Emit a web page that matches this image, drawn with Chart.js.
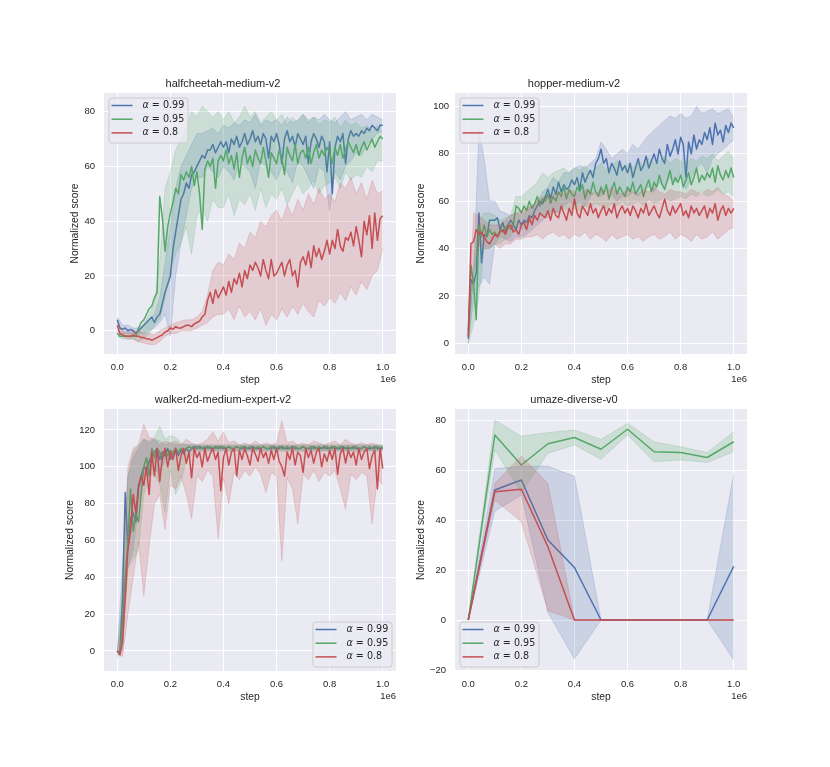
<!DOCTYPE html>
<html>
<head>
<meta charset="utf-8">
<script src="https://cdn.jsdelivr.net/npm/chart.js@4.4.0/dist/chart.umd.min.js"></script>
<style>
  html, body { margin: 0; padding: 0; background: #fff; }
  #fig { position: relative; width: 830px; height: 767px; overflow: hidden; background: #fff; }
  #fig canvas { position: absolute; }
</style>
</head>
<body>
<div id="fig">
  <canvas id="hc"></canvas>
  <canvas id="hp"></canvas>
  <canvas id="wk"></canvas>
  <canvas id="um"></canvas>
</div>
<script>
// evaluation steps: means every 1e4 steps, bands every 2e4 steps
const FINE_STEPS = Array.from({length: 101}, (_, i) => i * 10000);
const BAND_STEPS = Array.from({length: 51}, (_, i) => i * 20000);
const UM_STEPS = [0, 100000, 200000, 300000, 400000, 500000, 600000, 700000, 800000, 900000, 1000000];

const X_TICKS = [0, 200000, 400000, 600000, 800000, 1000000];
const LEGEND_LABELS = ['0.99', '0.95', '0.8'];

// halfcheetah-medium-v2
const HC_BLUE = [
  4,1,0.5,1,0,0.5,0,-1,0,1,
  2,3,4,5,3,5,6,10,14,17,
  20,30,36,42,48,50,54,52,57,58,
  60,62,64,63,66,66,68,65,67,69,
  67,69,65,70,68,71,67,69,72,68,
  70,73,69,71,68,72,70,63,71,69,
  72,68,61,70,73,69,71,67,72,70,
  68,71,61,69,72,70,67,71,69,58,
  69,50,67,71,69,72,61,70,73,71,
  72,71,73,72,74,73,75,74,73,75,75];
const HC_BLUE_HI = [
  5,2,2,1,1,2,4,6,12,25,
  38,52,60,64,68,72,72,73,74,72,
  75,74,76,75,77,76,79,75,77,76,
  77,75,78,76,77,79,76,78,77,79,
  77,76,78,80,77,78,79,77,79,78,77];
const HC_BLUE_LO = [
  2,-1,-1,-1,-1,-1,0,1,3,6,
  -2,20,32,42,52,56,56,60,58,56,
  60,58,55,62,60,58,52,62,60,58,
  55,60,58,54,62,60,56,52,60,58,
  44,58,55,60,62,65,64,68,70,72,73];
const HC_GREEN = [
  -1,-2,-2,-2,-2,-2,-2,-2,1,3,
  4,6,8,9,12,14,49,41,29,38,
  43,47,52,50,57,55,58,56,60,53,
  58,50,37,59,62,60,63,52,62,64,
  62,66,61,64,59,65,56,63,67,61,
  64,60,66,63,61,67,62,56,65,63,
  61,66,63,57,67,64,62,68,61,65,
  66,63,67,61,65,68,63,66,64,67,
  65,61,67,64,68,63,66,69,67,65,
  68,64,67,69,66,68,70,67,69,71,70];
const HC_GREEN_HI = [
  0,-1,-1,-1,0,3,6,10,25,52,
  58,66,70,74,80,78,82,80,78,80,
  77,80,76,78,82,78,80,76,78,80,
  77,79,75,78,76,79,77,78,75,77,
  76,78,74,77,75,76,74,75,73,75,72];
const HC_GREEN_LO = [
  -2,-3,-3,-3,-4,-3,-1,2,4,12,
  22,28,32,38,28,42,45,40,48,45,
  45,50,42,48,46,50,44,52,45,50,
  48,52,46,50,54,50,52,55,50,53,
  54,56,52,58,55,57,56,60,58,62,62];
const HC_RED = [
  2,-1,-1.5,-2,-2,-2,-1.5,-2,-2,-2.5,
  -2.5,-3,-3,-3.5,-3,-2.5,-2,-1.5,-0.5,0,
  1,0.5,1.5,1,1,1.5,2,2,1.5,2.5,
  3,3.5,5,6,11,14,10,15,12,14,
  16,13,18,14,19,17,21,16,22,19,
  24,22,25,23,20,26,22,19,26,20,
  21,23,25,20,24,26,20,22,16,25,
  27,24,29,23,31,27,30,26,29,33,
  28,33,30,37,31,29,34,33,36,31,
  38,33,27,40,35,42,30,43,33,41,42];
const HC_RED_HI = [
  3,0,-0.5,0,0,-1,-1,-1.5,0,1,
  2,3,3.5,4,4,5,7,13,22,25,
  24,28,26,32,30,36,34,40,38,42,
  44,40,46,42,48,44,50,46,52,48,
  50,47,54,52,56,50,54,48,55,50,51];
const HC_RED_LO = [
  -1,-2,-3,-3,-4,-4.5,-5,-5,-4,-2,
  -1,-1,0,0,0,1,2,3,5,6,
  6,8,4,9,5,7,4,8,2,6,
  4,8,5,9,6,10,7,5,11,9,
  12,10,14,11,16,13,18,15,20,22,30];

// hopper-medium-v2
const HP_BLUE = [
  2,27,25,30,55,34,46,45,52,52,
  52,53,48,51,47,50,52,50,48,52,
  50,52,51,54,53,56,58,60,59,62,
  65,61,66,63,68,64,67,65,66,69,
  67,70,65,72,68,71,73,70,76,78,
  82,76,78,72,76,74,71,77,73,75,
  72,76,70,74,78,73,75,79,74,77,
  80,76,82,78,76,84,79,82,86,80,
  87,84,70,85,80,88,82,86,84,89,
  86,91,84,93,88,90,85,92,89,93,91];
const HP_BLUE_HI = [
  4,30,90,78,60,60,56,55,54,55,
  54,56,58,60,64,66,70,68,72,72,
  74,75,74,76,78,85,82,78,80,82,
  80,84,82,85,88,90,92,94,96,95,
  97,95,96,100,97,98,99,97,98,99,95];
const HP_BLUE_LO = [
  0,18,24,28,25,42,45,44,43,45,
  45,46,48,50,52,55,56,55,58,60,
  58,60,58,62,64,62,65,63,60,62,
  62,64,62,65,66,64,68,66,70,68,
  72,65,70,74,76,72,78,80,82,84,86];
const HP_GREEN = [
  5,33,25,10,50,45,50,45,48,46,
  47,45,48,47,49,50,48,50,58,57,
  55,58,56,60,57,59,62,58,61,60,
  63,59,62,60,64,62,66,61,65,63,
  62,66,64,67,61,65,63,68,64,62,
  66,63,67,61,65,68,63,66,64,62,
  66,64,68,63,65,67,62,66,69,64,
  68,66,71,67,65,69,73,67,70,68,
  71,66,69,72,67,70,74,68,71,69,
  72,70,74,68,75,71,69,73,70,74,70];
const HP_GREEN_HI = [
  8,35,52,55,55,54,52,53,54,62,
  62,64,66,68,72,70,72,73,74,72,
  74,73,75,72,74,76,73,75,77,74,
  76,74,77,75,78,76,77,79,76,78,
  77,76,78,77,79,78,80,77,79,81,78];
const HP_GREEN_LO = [
  0,8,20,40,40,42,42,44,45,50,
  48,50,52,54,55,53,56,55,57,56,
  57,56,58,57,59,58,57,59,58,60,
  58,59,60,58,61,59,60,62,60,61,
  62,61,63,62,64,62,63,65,63,64,62];
const HP_RED = [
  3,42,43,48,46,47,45,43,42,44,
  46,45,47,48,46,49,50,47,48,46,
  50,51,48,53,50,54,52,55,54,53,
  56,52,57,54,53,58,55,52,57,54,
  61,55,53,58,56,54,59,55,57,53,
  56,58,54,57,55,59,53,56,58,55,
  57,54,58,56,53,57,55,59,54,56,
  58,55,53,57,61,56,54,58,55,57,
  59,54,56,53,58,55,57,54,56,58,
  53,57,55,59,52,56,58,54,57,55,57];
const HP_RED_HI = [
  5,55,54,52,50,50,50,52,54,55,
  56,57,58,60,62,62,63,64,63,65,
  64,63,65,64,63,65,64,66,64,63,
  65,64,63,65,64,66,64,63,65,64,
  64,63,65,64,63,65,64,66,63,62,60];
const HP_RED_LO = [
  0,30,42,40,40,42,40,42,42,44,
  44,45,45,46,44,46,47,45,46,44,
  46,45,47,44,46,45,43,46,44,45,
  46,44,45,43,45,46,44,45,47,44,
  46,45,43,46,44,45,47,44,46,48,49];

// walker2d-medium-expert-v2
const WK_BLUE = [
  0,-1,30,86,55,72,75,70,88,95,
  100,98,103,106,108,110,104,108,106,110,
  104,108,110,106,109,107,110,108,110,111,
  110,111,110,110,111,110,110,111,110,111,
  110,110,111,110,110,111,110,110,111,110,
  110,111,110,110,110,111,110,110,110,111,
  110,110,111,110,110,110,111,110,110,110,
  111,110,110,110,111,110,110,110,111,110,
  110,111,110,110,110,111,110,110,110,111,
  110,110,110,111,110,110,110,111,110,110,110];
const WK_BLUE_HI = [
  0,47,95,105,110,115,113,115,114,112,
  113,112,112,112,112,111.5,111.5,111.5,111.5,111.5,
  111.5,111.5,111.5,111.5,111.5,111.5,111.5,111.5,111.5,111.5,
  111.5,111.5,111.5,111.5,111.5,111.5,111.5,111.5,111.5,111.5,
  111.5,111.5,111.5,111.5,111.5,111.5,111.5,111.5,111.5,111.5,111.5];
const WK_BLUE_LO = [
  -1,0,45,55,80,95,100,98,97,104,
  105,107,108,109,109,109,109,109,109,109,
  109,109,109,109,109,109,109,109,109,109,
  109,109,109,109,109,109,109,109,109,109,
  109,109,109,109,109,109,109,109,109,109,109];
const WK_GREEN = [
  0,-2,15,40,60,88,65,75,70,85,
  100,105,95,110,105,110,108,104,110,106,
  109,107,110,108,110,109,110,111,110,110,
  111,110,110,111,110,111,110,110,111,110,
  111,110,111,110,110,111,110,111,110,110,
  111,110,110,111,110,111,110,110,111,110,
  110,111,110,110,111,110,110,111,110,110,
  111,110,110,111,110,110,111,110,110,111,
  110,110,111,110,111,110,110,111,110,110,
  111,110,110,111,110,111,110,110,111,110,111];
const WK_GREEN_HI = [
  0,30,95,108,112,115,114,116,122,115,
  117,116,113,112,112,112,112,112,112,112,
  112,112,112,112,112,112,112,112,112,112,
  112,112,112,112,112,112,112,112,112,112,
  112,112,112,112,112,112,112,112,112,112,112];
const WK_GREEN_LO = [
  -4,5,45,50,55,85,95,96,90,75,
  98,85,92,104,106,108.5,108.5,108.5,108.5,108.5,
  108.5,108.5,108.5,108.5,108.5,108.5,108.5,108.5,108.5,108.5,
  108.5,108.5,108.5,108.5,108.5,108.5,108.5,108.5,108.5,108.5,
  108.5,108.5,108.5,108.5,108.5,108.5,108.5,108.5,108.5,108.5,108.5];
const WK_RED = [
  0,-2,5,30,55,65,85,75,90,95,
  90,100,85,108,95,110,92,105,110,100,
  108,104,110,98,106,110,102,108,94,110,
  105,108,100,110,103,107,110,104,108,87,
  105,110,101,108,110,95,109,104,110,106,
  101,110,107,103,110,105,108,102,109,104,
  110,103,100,95,108,104,110,101,108,106,
  97,110,105,109,102,108,110,100,107,103,
  109,104,110,96,107,110,102,109,105,108,
  101,110,104,108,110,99,106,109,88,110,99];
const WK_RED_HI = [
  0,20,100,110,112,123,116,115,112,114,
  113,114,112,115,113,112,113,115,119,114,
  119,113,114,112,113,112,114,112,113,112,
  113,125,113,114,112,113,112,114,113,112,
  113,114,112,115,113,112,113,112,113,112,111];
const WK_RED_LO = [
  -2,-3,20,40,60,30,57,80,85,66,
  90,88,95,85,72,95,92,98,95,61,
  94,80,97,93,98,95,100,96,86,97,
  95,49,94,88,69,96,93,98,92,97,
  95,98,88,77,96,93,97,95,69,94,90];

// umaze-diverse-v0
const UM_BLUE = [0, 52, 56, 32, 21, 0, 0, 0, 0, 0, 21.5];
const UM_BLUE_HI = [0, 60.5, 61.5, 61.5, 57.5, 0, 0, 0, 0, 0, 58.5];
const UM_BLUE_LO = [0, 43.5, 50, 3, -15.5, 0, 0, 0, 0, 0, -16];
const UM_GREEN = [0, 74, 62, 70.5, 73, 68.3, 76.3, 67.3, 67, 65, 71.3];
const UM_GREEN_HI = [0, 80, 73.5, 75, 76, 72.3, 78.7, 71.3, 69.3, 67, 75.3];
const UM_GREEN_LO = [0, 68, 51, 66.7, 70, 64.3, 74, 63.3, 64, 63, 67.3];
const UM_RED = [0, 51.3, 52.3, 29.3, 0, 0, 0, 0, 0, 0, 0];
const UM_RED_HI = [0, 54.7, 65.6, 54.7, 0, 0, 0, 0, 0, 0, 0];
const UM_RED_LO = [0, 48, 39.3, 3.7, 0, 0, 0, 0, 0, 0, 0];

const BLUE = [76, 114, 176];
const GREEN = [85, 168, 104];
const RED = [196, 78, 82];
const COLORS = [BLUE, GREEN, RED];
const TEXT = '#262626';
const FONT = '"Liberation Sans", Arial, sans-serif';

const rgba = (c, a) => `rgba(${c[0]},${c[1]},${c[2]},${a})`;

const panels = [
  {id: 'hc', title: 'halfcheetah-medium-v2', L: 104, T: 93, B: 354, yMin: -8.5, yMax: 86.8,
   yTicks: [0, 20, 40, 60, 80], legend: 'ul', tickPad: 9, yTitleOff: 29,
   steps: FINE_STEPS, bandSteps: BAND_STEPS,
   series: [[HC_BLUE, HC_BLUE_HI, HC_BLUE_LO], [HC_GREEN, HC_GREEN_HI, HC_GREEN_LO], [HC_RED, HC_RED_HI, HC_RED_LO]]},
  {id: 'hp', title: 'hopper-medium-v2', L: 455, T: 93, B: 354, yMin: -4.5, yMax: 105.7,
   yTicks: [0, 20, 40, 60, 80, 100], legend: 'ul', tickPad: 6, yTitleOff: 34,
   steps: FINE_STEPS, bandSteps: BAND_STEPS,
   series: [[HP_BLUE, HP_BLUE_HI, HP_BLUE_LO], [HP_GREEN, HP_GREEN_HI, HP_GREEN_LO], [HP_RED, HP_RED_HI, HP_RED_LO]]},
  {id: 'wk', title: 'walker2d-medium-expert-v2', L: 104, T: 409, B: 671, yMin: -10.9, yMax: 131.4,
   yTicks: [0, 20, 40, 60, 80, 100, 120], legend: 'lr', tickPad: 9, yTitleOff: 34,
   steps: FINE_STEPS, bandSteps: BAND_STEPS,
   series: [[WK_BLUE, WK_BLUE_HI, WK_BLUE_LO], [WK_GREEN, WK_GREEN_HI, WK_GREEN_LO], [WK_RED, WK_RED_HI, WK_RED_LO]]},
  {id: 'um', title: 'umaze-diverse-v0', L: 455, T: 409, B: 671, yMin: -20.4, yMax: 84.4,
   yTicks: [-20, 0, 20, 40, 60, 80], legend: 'll', tickPad: 9, yTitleOff: 34,
   steps: UM_STEPS, bandSteps: UM_STEPS,
   series: [[UM_BLUE, UM_BLUE_HI, UM_BLUE_LO], [UM_GREEN, UM_GREEN_HI, UM_GREEN_LO], [UM_RED, UM_RED_HI, UM_RED_LO]]}
];

// grey axes face + offset label "1e6"
const axesDecor = {
  id: 'axesDecor',
  beforeDraw(chart) {
    const {ctx, chartArea: a} = chart;
    ctx.save();
    ctx.fillStyle = '#eaeaf2';
    ctx.fillRect(a.left, a.top, a.right - a.left, a.bottom - a.top);
    ctx.restore();
  },
  afterDraw(chart) {
    const {ctx, chartArea: a} = chart;
    ctx.save();
    ctx.fillStyle = TEXT;
    ctx.font = '9.5px ' + FONT;
    ctx.textAlign = 'right';
    ctx.textBaseline = 'middle';
    ctx.fillText('1e6', a.right, a.bottom + 25);
    ctx.restore();
  }
};

function legendPlugin(corner) {
  return {
    id: 'figLegend',
    afterDatasetsDraw(chart) {
      const {ctx, chartArea: a} = chart;
      const w = 79, h = 45, inset = 4.5;
      const x = corner === 'lr' ? a.right - inset - w : a.left + inset;
      const y = corner === 'ul' ? a.top + inset : a.bottom - inset - h;
      ctx.save();
      ctx.beginPath();
      ctx.roundRect(x + 0.5, y + 0.5, w, h, 3);
      ctx.fillStyle = 'rgba(234,234,242,0.8)';
      ctx.fill();
      ctx.strokeStyle = '#cccccc';
      ctx.lineWidth = 1;
      ctx.stroke();
      LEGEND_LABELS.forEach((lab, i) => {
        const cy = y + 8 + i * 13.7;
        ctx.strokeStyle = rgba(COLORS[i], 1);
        ctx.lineWidth = 1.5;
        ctx.beginPath();
        ctx.moveTo(x + 3, cy);
        ctx.lineTo(x + 24, cy);
        ctx.stroke();
        ctx.fillStyle = TEXT;
        ctx.textBaseline = 'middle';
        ctx.textAlign = 'left';
        ctx.font = 'italic 9.6px "DejaVu Sans"';
        ctx.fillText('\u03b1', x + 34, cy);
        const aw = ctx.measureText('\u03b1').width;
        ctx.font = '9.6px "DejaVu Sans"';
        ctx.fillText(' = ' + lab, x + 34 + aw, cy);
      });
      ctx.restore();
    }
  };
}

function buildDatasets(p) {
  const pts = (xs, ys) => ys.map((y, i) => ({x: xs[i], y: y}));
  const out = [];
  // matplotlib order: blue band, blue line, green band, ... red line on top
  const orders = [4, 2, 0];
  p.series.forEach(([mean, hi, lo], k) => {
    const c = COLORS[k];
    out.push({data: pts(p.bandSteps, hi), borderColor: rgba(c, 0.2), borderWidth: 1,
      pointRadius: 0, fill: false, order: orders[k] + 1});
    out.push({data: pts(p.bandSteps, lo), borderColor: rgba(c, 0.2), borderWidth: 1,
      backgroundColor: rgba(c, 0.2), pointRadius: 0, fill: '-1', order: orders[k] + 1});
    out.push({data: pts(p.steps, mean), borderColor: rgba(c, 1), borderWidth: 1.5,
      pointRadius: 0, fill: false, order: orders[k], borderJoinStyle: 'round'});
  });
  return out;
}

panels.forEach(p => {
  const canvas = document.getElementById(p.id);
  const H = p.B - p.T;
  canvas.width = 292 + 54 + 16;
  canvas.height = H + 26 + 40;
  canvas.style.left = (p.L - 54) + 'px';
  canvas.style.top = (p.T - 26) + 'px';

  new Chart(canvas, {
    type: 'line',
    data: {datasets: buildDatasets(p)},
    options: {
      responsive: false,
      animation: false,
      events: [],
      layout: {padding: {left: 0, right: 16, top: 0, bottom: 0}},
      elements: {line: {tension: 0}},
      plugins: {
        legend: {display: false},
        tooltip: {enabled: false},
        title: {
          display: true,
          text: p.title,
          color: TEXT,
          font: {family: FONT, size: 11, weight: 'normal', lineHeight: 1.2},
          padding: {top: 10.4, bottom: 2.4}
        }
      },
      scales: {
        x: {
          type: 'linear',
          min: -50000,
          max: 1050000,
          afterBuildTicks: s => { s.ticks = X_TICKS.map(v => ({value: v})); },
          afterFit: s => { s.height = 40; },
          grid: {color: '#ffffff', lineWidth: 1, drawTicks: false},
          border: {display: false},
          ticks: {
            color: TEXT, padding: 7.5, maxRotation: 0, autoSkip: false,
            font: {family: FONT, size: 9.5},
            callback: v => (v / 1e6).toFixed(1)
          },
          title: {display: true, text: 'step', color: TEXT,
            font: {family: FONT, size: 10.3}, padding: {top: 0, bottom: 7.3}}
        },
        y: {
          min: p.yMin,
          max: p.yMax,
          afterBuildTicks: s => { s.ticks = p.yTicks.map(v => ({value: v})); },
          afterFit: s => { s.width = 54; },
          grid: {color: '#ffffff', lineWidth: 1, drawTicks: false},
          border: {display: false},
          ticks: {
            color: TEXT, padding: p.tickPad,
            font: {family: FONT, size: 9.5},
            callback: v => String(v).replace('-', '\u2212')
          },
          title: {display: true, text: 'Normalized score', color: TEXT,
            font: {family: FONT, size: 10.3},
            padding: {top: 54 - p.yTitleOff - 6.2, bottom: 0}}
        }
      }
    },
    plugins: [axesDecor, legendPlugin(p.legend)]
  });
});
</script>
</body>
</html>
